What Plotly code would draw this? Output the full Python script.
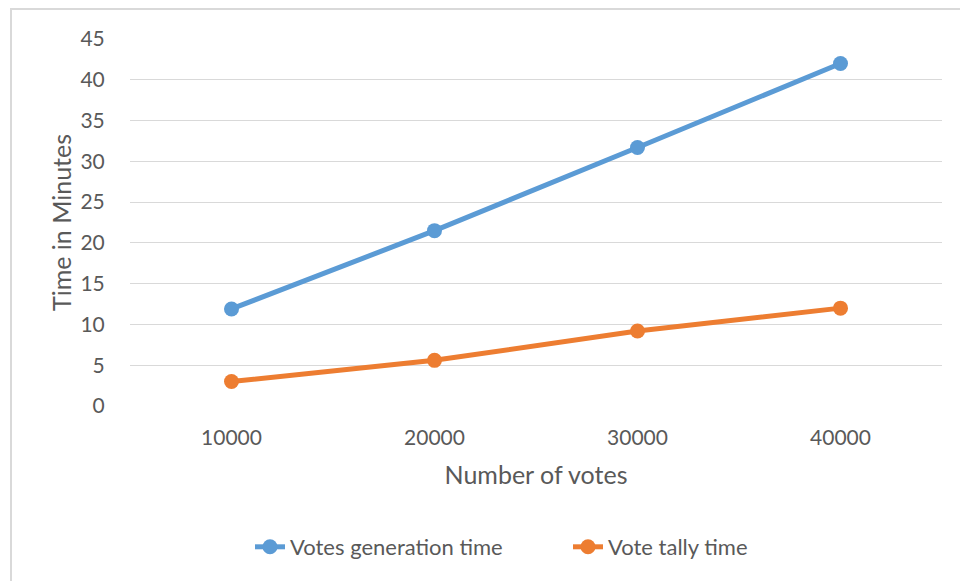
import plotly.graph_objects as go

categories = ["10000", "20000", "30000", "40000"]
generation_time = [11.9, 21.5, 31.7, 42.0]
tally_time = [3.0, 5.6, 9.2, 12.0]
y_ticks = [0, 5, 10, 15, 20, 25, 30, 35, 40, 45]

BLUE = "#5B9BD5"
ORANGE = "#ED7D31"
TXT = "#595959"
FONT = "Lato"

W, H = 960, 581
L, R, T, B = 130, 18, 39, 175
pw, ph = W - L - R, H - T - B

fig = go.Figure()
fig.add_trace(go.Scatter(
    x=categories, y=generation_time, name="Votes generation time",
    mode="lines+markers", line=dict(color=BLUE, width=5),
    marker=dict(color=BLUE, size=15)))
fig.add_trace(go.Scatter(
    x=categories, y=tally_time, name="Vote tally time",
    mode="lines+markers", line=dict(color=ORANGE, width=5),
    marker=dict(color=ORANGE, size=15)))

fig.update_layout(
    width=W, height=H,
    margin=dict(l=L, r=R, t=T, b=B),
    paper_bgcolor="white", plot_bgcolor="white",
    font=dict(family=FONT, color=TXT, size=21),
    showlegend=True,
    legend=dict(orientation="h", x=(250 - L) / pw, xanchor="left",
                y=-(547 - 406) / ph, yanchor="middle",
                font=dict(size=22, color=TXT),
                entrywidth=273, entrywidthmode="pixels",
                tracegroupgap=0),
    xaxis=dict(type="category", range=[-0.5, 3.5], showgrid=False,
               zeroline=False, showline=False,
               ticks="outside", ticklen=13, tickcolor="rgba(0,0,0,0)",
               tickfont=dict(size=21, color=TXT),
               title=dict(text="Number of votes", font=dict(size=25, color=TXT),
                          standoff=18)),
    yaxis=dict(range=[0, 45], tickvals=y_ticks, showgrid=True,
               gridcolor="#D9D9D9", gridwidth=1.3, zeroline=False,
               showline=False, ticks="outside", ticklen=20,
               tickcolor="rgba(0,0,0,0)",
               tickfont=dict(size=21, color=TXT),
               title=dict(text="Time in Minutes", font=dict(size=25, color=TXT),
                          standoff=1)),
)

# chart border (Excel chart area outline)
fig.add_shape(type="rect", xref="paper", yref="paper",
              x0=(11 - L) / pw, x1=(W + 5 - L) / pw,
              y0=-(H + 5 - T - ph) / ph, y1=(T + ph - 9) / ph,
              line=dict(color="#D9D9D9", width=2), fillcolor="rgba(0,0,0,0)",
              layer="below")

fig.write_html("out.html")
